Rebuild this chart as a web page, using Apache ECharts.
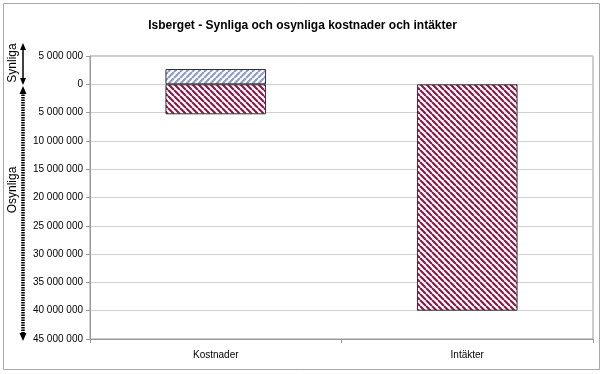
<!DOCTYPE html>
<html>
<head>
<meta charset="utf-8">
<script src="https://cdn.jsdelivr.net/npm/echarts@6/dist/echarts.min.js"></script>
<style>
html,body{margin:0;padding:0;background:#fff;}
#c{width:605px;height:374px;}
</style>
</head>
<body>
<div id="c"></div>
<script>
// Data
const categories = ['Kostnader', 'Intäkter'];
// Visible part (above the waterline) — drawn upward, stored as negative on the inverted axis
const synliga = [-2700000, null];
// Hidden part (below the waterline)
const osynliga = [5300000, 40000000];
const yMin = -5000000, yMax = 45000000, yInterval = 5000000;
const titleText = 'Isberget - Synliga och osynliga kostnader och intäkter';

function stripe(color, dir) {
  const s = 6;
  const c = document.createElement('canvas');
  c.width = s; c.height = s;
  const g = c.getContext('2d');
  g.fillStyle = '#fff';
  g.fillRect(0, 0, s, s);
  g.strokeStyle = color;
  g.lineWidth = 2.2;
  g.beginPath();
  for (let k = -1; k <= 1; k++) {
    if (dir === 'back') { // "\"
      g.moveTo(k * s, 0); g.lineTo(k * s + s, s);
    } else { // "/"
      g.moveTo(k * s, s); g.lineTo(k * s + s, 0);
    }
  }
  g.stroke();
  return c;
}

function fmt(v) {
  return String(Math.abs(v)).replace(/\B(?=(\d{3})+(?!\d))/g, ' ');
}

const chart = echarts.init(document.getElementById('c'), null, {renderer: 'canvas'});
const font = 'Liberation Sans, Arial, sans-serif';

chart.setOption({
  animation: false,
  backgroundColor: '#fff',
  title: {
    text: titleText,
    left: 'center', top: 15,
    textStyle: {fontFamily: font, fontSize: 12, fontWeight: 'bold', color: '#000'}
  },
  grid: {
    left: 90, right: 12, top: 56, bottom: 35,
    show: true, borderColor: '#9a9a9a', borderWidth: 1, backgroundColor: '#fff'
  },
  xAxis: {
    type: 'category',
    data: categories,
    position: 'bottom',
    axisLine: {onZero: false, lineStyle: {color: '#9a9a9a'}},
    axisTick: {show: true, alignWithLabel: false, length: 4, lineStyle: {color: '#9a9a9a'}},
    axisLabel: {fontFamily: font, fontSize: 10, color: '#000', margin: 11}
  },
  yAxis: {
    type: 'value',
    inverse: true,
    min: yMin, max: yMax, interval: yInterval,
    axisLine: {show: true, lineStyle: {color: '#9a9a9a'}},
    axisTick: {show: true, length: 4, lineStyle: {color: '#9a9a9a'}},
    axisLabel: {fontFamily: font, fontSize: 10, color: '#000', margin: 7, formatter: fmt},
    splitLine: {lineStyle: {color: '#d0d0d0'}}
  },
  series: [
    {
      type: 'bar', stack: 'a', name: 'Osynliga', data: osynliga, barWidth: '40%',
      itemStyle: {color: {image: stripe('#8a1a4a', 'back'), repeat: 'repeat'}, borderColor: '#333', borderWidth: 1}
    },
    {
      type: 'bar', stack: 'a', name: 'Synliga', data: synliga, barWidth: '40%',
      itemStyle: {color: {image: stripe('#8e9cc8', 'fwd'), repeat: 'repeat'}, borderColor: '#333', borderWidth: 1}
    }
  ],
  graphic: [
    {type: 'rect', shape: {x: 3.5, y: 3.5, width: 596, height: 366}, style: {fill: null, stroke: '#a8a8a8', lineWidth: 1}, silent: true},
    // Synliga solid double arrow
    {type: 'line', shape: {x1: 23, y1: 48, x2: 23, y2: 81}, style: {stroke: '#000', lineWidth: 1.5}},
    {type: 'polygon', shape: {points: [[23, 43], [20, 50], [26, 50]]}, style: {fill: '#000'}},
    {type: 'polygon', shape: {points: [[23, 85], [20, 78], [26, 78]]}, style: {fill: '#000'}},
    // Osynliga dotted double arrow
    {type: 'line', shape: {x1: 23, y1: 92, x2: 23, y2: 334}, style: {stroke: '#000', lineWidth: 3.5, lineDash: [1.5, 1]}},
    {type: 'polygon', shape: {points: [[23, 86], [19.5, 94], [26.5, 94]]}, style: {fill: '#000'}},
    {type: 'polygon', shape: {points: [[23, 341], [19.5, 333], [26.5, 333]]}, style: {fill: '#000'}},
    {type: 'text', x: 13, y: 63, rotation: Math.PI / 2,
      style: {text: 'Synliga', fontFamily: font, fontSize: 12, fill: '#000', textAlign: 'center', textVerticalAlign: 'middle'}},
    {type: 'text', x: 13, y: 190, rotation: Math.PI / 2,
      style: {text: 'Osynliga', fontFamily: font, fontSize: 12, fill: '#000', textAlign: 'center', textVerticalAlign: 'middle'}}
  ]
});
</script>
</body>
</html>
